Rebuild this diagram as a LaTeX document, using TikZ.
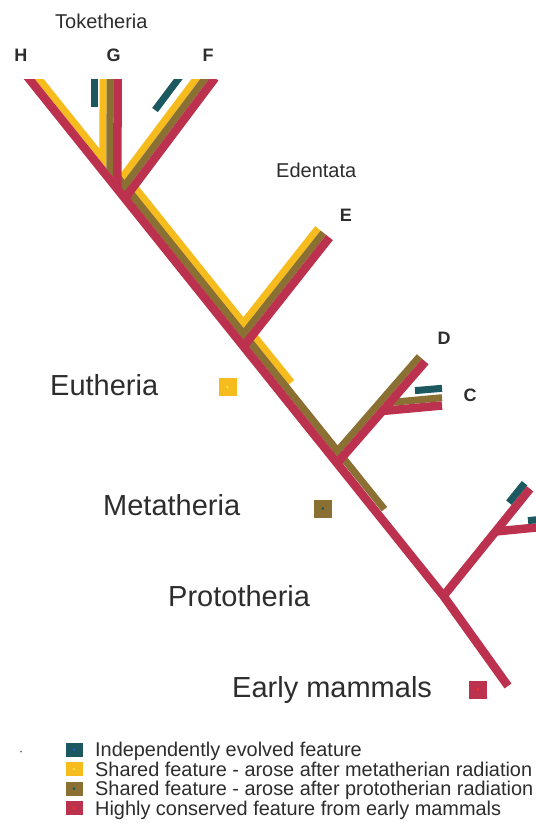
\documentclass[tikz,border=0pt]{standalone}
\usepackage{fontspec}
\setmainfont{Liberation Sans}
\usetikzlibrary{calc}
\definecolor{cred}{RGB}{188,50,78}
\definecolor{cochre}{RGB}{138,112,50}
\definecolor{cyel}{RGB}{246,188,30}
\definecolor{cteal}{RGB}{28,88,96}
\definecolor{ctxt}{RGB}{45,45,45}
\definecolor{dotblue}{RGB}{40,90,200}
\definecolor{dotyel}{RGB}{252,222,70}
\definecolor{dotred}{RGB}{240,45,40}
\begin{document}
\begin{tikzpicture}[x=1pt,y=-1pt,
  strip/.style={line cap=butt,line join=miter},
  redstrip/.style={strip,line width=8.5pt,draw=cred},
  ochrestrip/.style={strip,line width=7pt,draw=cochre},
  yelstrip/.style={strip,line width=7pt,draw=cyel},
  tealstrip/.style={strip,line width=7pt,draw=cteal},
  bigl/.style={anchor=base west,inner sep=0pt,text=ctxt,font=\fontsize{29}{32}\selectfont},
  smalll/.style={anchor=base west,inner sep=0pt,text=ctxt,font=\fontsize{20}{22}\selectfont},
  letter/.style={anchor=center,inner sep=0pt,text=ctxt,font=\fontsize{18}{20}\selectfont\bfseries},
  legt/.style={anchor=base west,inner sep=0pt,text=ctxt,font=\fontsize{19.9}{21}\selectfont},
  marksq/.style={draw=none,minimum size=18pt,inner sep=0pt},
  legsq/.style={draw=none,minimum width=17pt,minimum height=14pt,inner sep=0pt},
  sqdot/.style={circle,draw=none,inner sep=0pt,minimum size=3pt}
]
\fill[white] (0,0) rectangle (536,823);
\useasboundingbox (0,0) rectangle (536,823);

% ---------- trunk lines (red, ochre, yellow centre lines); bend hidden at the Prototheria junction
\coordinate (RA) at (26.5,75.6);
\coordinate (RB) at (443.5,596);
\coordinate (RC) at (508,686);
\coordinate (OA) at (32.55,70.75);
\coordinate (OB) at (449.55,591.15);
\coordinate (YA) at (38.0,66.37);
\coordinate (YB) at (455.0,586.77);
\coordinate (Yend) at (291.5,382.3);
\coordinate (Oend) at (384.4,509.2);
% ---------- G branch
\coordinate (GrA) at (117.5,70); \coordinate (GrB) at (117.5,220);
\coordinate (GoA) at (110,70);   \coordinate (GoB) at (110,220);
\coordinate (GyA) at (103,70);   \coordinate (GyB) at (103,220);
\coordinate (GtA) at (94.7,70);  \coordinate (GtB) at (94.7,107);
% ---------- F branch
\coordinate (FrA) at (215,78);      \coordinate (FrB) at (95,238);
\coordinate (FoA) at (208.8,73.35); \coordinate (FoB) at (88.8,233.35);
\coordinate (FyA) at (203.2,69.15); \coordinate (FyB) at (83.2,229.15);
\coordinate (FtA) at (185,70);      \coordinate (FtB) at (155,110);
% ---------- E branch
\coordinate (ErA) at (329.5,237.5);  \coordinate (ErB) at (205.5,394.5);
\coordinate (EoA) at (323.42,232.7); \coordinate (EoB) at (199.42,389.7);
\coordinate (EyA) at (317.92,228.35);\coordinate (EyB) at (193.92,385.35);
% ---------- D and C branches
\coordinate (DrA) at (425.35,361.58); \coordinate (DrB) at (294.15,512.58);
\coordinate (DoA) at (419.5,356.5);   \coordinate (DoB) at (288.3,507.5);
\coordinate (CrA) at (442,405.5);     \coordinate (CrB) at (380,411.2);
\coordinate (CoA) at (442,397.7);     \coordinate (CoB) at (380,403.4);
\coordinate (CtA) at (415,390.6);     \coordinate (CtB) at (442,388.3);
% ---------- Prototheria branch
\coordinate (PrA) at (530,488.8);   \coordinate (PrB) at (443.6,595.5);
\coordinate (PtA) at (524.6,483.2); \coordinate (PtB) at (508.85,502.6);
\coordinate (SrA) at (540,527.1);   \coordinate (SrB) at (480,533.1);
\coordinate (StA) at (528,520.6);   \coordinate (StB) at (540,519.4);

% ---------- junctions
\coordinate (V1) at (intersection of OA--OB and GyA--GyB);
\coordinate (V2) at (intersection of FyA--FyB and YA--YB);
\coordinate (V3) at (intersection of YA--YB and EyA--EyB);
\coordinate (V4) at (intersection of OA--OB and GoA--GoB);
\coordinate (V5) at (intersection of FoA--FoB and OA--OB);
\coordinate (V6) at (intersection of OA--OB and EoA--EoB);
\coordinate (V7) at (intersection of OA--OB and DoA--DoB);
\coordinate (JG) at (intersection of RA--RB and GrA--GrB);
\coordinate (JF) at (intersection of RA--RB and FrA--FrB);
\coordinate (JE) at (intersection of RA--RB and ErA--ErB);
\coordinate (JD) at (intersection of RA--RB and DrA--DrB);
\coordinate (JC) at (intersection of DrA--DrB and CrA--CrB);
\coordinate (JCo) at (intersection of DrA--DrB and CoA--CoB);
\coordinate (JS) at (intersection of PrA--PrB and SrA--SrB);

\begin{scope}
\clip (0,79.5) rectangle (536,823);
% yellow layer
\draw[yelstrip] (OA) -- (V1) -- (GyA);
\draw[yelstrip] (FyA) -- (V2) -- (V3) -- (EyA);
\draw[yelstrip] (V3) -- (Yend);
% ochre layer
\draw[ochrestrip] (GoA) -- (V4) -- (Oend);
\draw[ochrestrip] (FoA) -- (V5) -- (V6) -- (EoA);
\draw[ochrestrip] (DoA) -- (V7) -- (V6);
\draw[ochrestrip] (CoA) -- (JCo);
% red layer
\draw[redstrip] (RA) -- (RB) -- (RC);
\draw[redstrip] (GrA) -- ($(JG)!-1pt!(GrA)$);
\draw[redstrip] (FrA) -- ($(JF)!-1pt!(FrA)$);
\draw[redstrip] (ErA) -- ($(JE)!-1pt!(ErA)$);
\draw[redstrip] (DrA) -- ($(JD)!-1pt!(DrA)$);
\draw[redstrip] (CrA) -- (JC);
\draw[redstrip] (PrA) -- (RB);
\draw[redstrip] (SrA) -- (JS);
% teal (independently evolved)
\draw[tealstrip] (GtA) -- (GtB);
\draw[tealstrip] (FtA) -- (FtB);
\draw[tealstrip] (CtA) -- (CtB);
\draw[tealstrip] (PtA) -- (PtB);
\draw[tealstrip] (StA) -- (StB);
\end{scope}

% ---------- group markers
\node[marksq,fill=cyel] (mEu) at (227.5,387) {};
\node[sqdot,fill=dotyel] (dEu) at (mEu.center) {};
\node[marksq,fill=cochre] (mMe) at (322.8,508.5) {};
\node[sqdot,fill=cteal] (dMe) at (mMe.center) {};
\node[marksq,fill=cred] (mEm) at (477.8,689.5) {};
\node[sqdot,fill=dotred] (dEm) at (mEm.center) {};

% ---------- labels
\node[smalll] (tok) at (55,28.3) {Toketheria};
\node[letter] (lH) at (20.8,55) {H};
\node[letter] (lG) at (113.7,55) {G};
\node[letter] (lF) at (208,55) {F};
\node[smalll] (ede) at (276,177) {Edentata};
\node[letter] (lE) at (345.8,215.5) {E};
\node[letter] (lD) at (444,338) {D};
\node[letter] (lC) at (470,395.5) {C};
\node[bigl] (eut) at (50,395) {Eutheria};
\node[bigl] (met) at (103,515) {Metatheria};
\node[bigl] (pro) at (168,606.5) {Prototheria};
\node[bigl] (ear) at (232,697) {Early mammals};

% ---------- legend
\node[circle,fill=black!55,inner sep=0pt,minimum size=2pt] (tick) at (21,751.5) {};
\node[legsq,fill=cteal] (k1) at (74,749.5) {};
\node[sqdot,fill=dotblue] (k1d) at (k1.center) {};
\node[legt] (t1) at (95,756.5) {Independently evolved feature};
\node[legsq,fill=cyel] (k2) at (74,769) {};
\node[sqdot,fill=dotyel] (k2d) at (k2.center) {};
\node[legt] (t2) at (95,776) {Shared feature - arose after metatherian radiation};
\node[legsq,fill=cochre] (k3) at (74,788.5) {};
\node[sqdot,fill=cteal] (k3d) at (k3.center) {};
\node[legt] (t3) at (95,795.5) {Shared feature - arose after prototherian radiation};
\node[legsq,fill=cred] (k4) at (74,808) {};
\node[sqdot,fill=dotred] (k4d) at (k4.center) {};
\node[legt] (t4) at (95,815) {Highly conserved feature from early mammals};
\end{tikzpicture}
\end{document}
